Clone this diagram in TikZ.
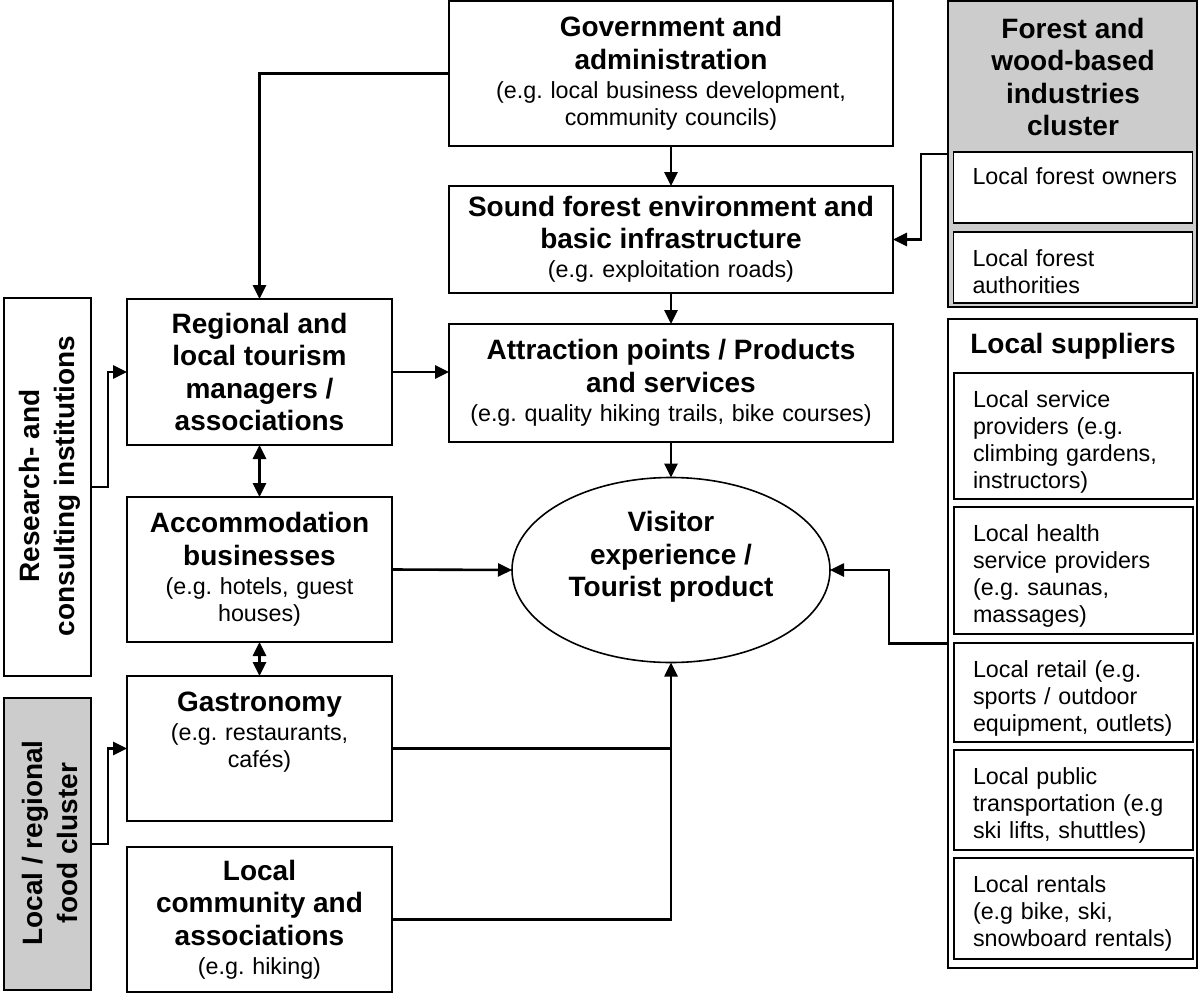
\documentclass[tikz,border=0pt]{standalone}
\usepackage{fontspec}
\setmainfont{Liberation Sans}
\usetikzlibrary{arrows.meta,shapes.geometric}
\definecolor{clustergray}{RGB}{204,204,204}
\setlength{\parindent}{0pt}
\frenchspacing
% bold heading lines inside a box, followed by the plain note text
\newcommand\boxhead[1]{{\fontsize{28}{32.5}\selectfont\bfseries #1\par}\vspace{2pt}}

\begin{document}
\begin{tikzpicture}[x=1pt,y=-1pt,
  every node/.style={inner sep=0pt, outer sep=0pt},
  notefont/.style={font=\fontsize{23.3}{27}\selectfont},
  headfont/.style={font=\fontsize{28}{32.5}\selectfont\bfseries},
  box/.style={draw, line width=1.6pt, fill=white, rectangle},
  midbox/.style={box, notefont, text width=430pt, align=center, minimum width=444pt},
  leftbox/.style={box, notefont, text width=255pt, align=center, minimum width=265pt},
  groupbox/.style={draw, line width=2.4pt, rectangle},
  itembox/.style={box, minimum width=239pt},
  itemtext/.style={notefont, anchor=north west, align=left, text width=215pt},
  plainconn/.style={line width=2.6pt},
  conn/.style={plainconn, -{Triangle[length=14pt,width=13pt]}},
  biconn/.style={plainconn, {Triangle[length=14pt,width=13pt]}-{Triangle[length=14pt,width=13pt]}}
]
\useasboundingbox (0,0) rectangle (1200,993);

% central chain
\node[midbox, minimum height=145pt] (gov) at (671,73.5)
  {\boxhead{Government and\\administration}(e.g. local business development,\\community councils)};
\node[midbox, minimum height=107pt] (sound) at (671,239.5)
  {\boxhead{Sound forest environment and\\basic infrastructure}(e.g. exploitation roads)};
\node[midbox, minimum height=118pt] (attr) at (671,383)
  {\boxhead{Attraction points / Products\\and services}(e.g. quality hiking trails, bike courses)};
\node[draw, ellipse, line width=1.6pt, fill=white, minimum width=318pt, minimum height=185pt] (vis) at (671,570) {};
\node[headfont, align=center] (vistext) at (671,557) {Visitor\\experience /\\Tourist product};

% left column
\node[leftbox, minimum height=146pt] (reg) at (259.5,372)
  {\boxhead{Regional and\\local tourism\\managers /\\associations}};
\node[leftbox, minimum height=145pt] (acc) at (259.5,569.5)
  {\boxhead{Accommodation\\businesses}(e.g. hotels, guest\\houses)};
\node[box, minimum width=265pt, minimum height=145pt] (gas) at (259.5,748.5) {};
\node[notefont, text width=255pt, align=center, anchor=north] (gastext) at (259.5,692)
  {\boxhead{Gastronomy}(e.g. restaurants,\\caf\'es)};
\node[leftbox, minimum height=145pt] (com) at (259.5,919.5)
  {\boxhead{Local\\community and\\associations}(e.g. hiking)};

% outer left blocks with upright-reading labels
\node[box, minimum width=87pt, minimum height=378pt] (res) at (47.5,487) {};
\node[headfont, align=center, rotate=90] (restext) at (50,486) {Research- and\\[3pt]consulting institutions};
\node[box, fill=clustergray, minimum width=87pt, minimum height=292pt] (food) at (47.5,844) {};
\node[headfont, align=center, rotate=90] (foodtext) at (50,843) {Local / regional\\[3pt]food cluster};

% forest cluster
\node[groupbox, fill=clustergray, minimum width=249pt, minimum height=306pt] (forest) at (1072.5,154) {};
\node[headfont, align=center, anchor=north] (foresttitle) at (1073,18) {Forest and\\wood-based\\industries\\cluster};
\node[itembox, minimum height=71pt] (owners) at (1073,187.5) {};
\node[itemtext] (ownerstext) at ([xshift=19pt,yshift=-16pt]owners.north west) {Local forest owners};
\node[itembox, minimum height=71pt] (auth) at (1073,267.5) {};
\node[itemtext] (authtext) at ([xshift=19pt,yshift=-18pt]auth.north west) {Local forest\\authorities};

% local suppliers
\node[groupbox, fill=white, minimum width=249pt, minimum height=649pt] (sup) at (1072.5,643.5) {};
\node[headfont, anchor=north] (suptitle) at (1073,333) {Local suppliers};
\node[itembox, minimum height=126pt] (svc) at (1073.5,436) {};
\node[itemtext] (svctext) at ([xshift=19pt,yshift=-18pt]svc.north west)
  {Local service\\providers (e.g.\\climbing gardens,\\instructors)};
\node[itembox, minimum height=127pt] (hlt) at (1073.5,570.5) {};
\node[itemtext] (hlttext) at ([xshift=19pt,yshift=-18pt]hlt.north west)
  {Local health\\service providers\\(e.g. saunas,\\massages)};
\node[itembox, minimum height=99pt] (ret) at (1073.5,692.5) {};
\node[itemtext] (rettext) at ([xshift=19pt,yshift=-18pt]ret.north west)
  {Local retail (e.g.\\sports / outdoor\\equipment, outlets)};
\node[itembox, minimum height=100pt] (pub) at (1073.5,800) {};
\node[itemtext] (pubtext) at ([xshift=19pt,yshift=-18pt]pub.north west)
  {Local public\\transportation (e.g\\ski lifts, shuttles)};
\node[itembox, minimum height=101pt] (ren) at (1073.5,908.5) {};
\node[itemtext] (rentext) at ([xshift=19pt,yshift=-18pt]ren.north west)
  {Local rentals\\(e.g bike, ski,\\snowboard rentals)};

% connectors
\draw[conn] (gov.west) -| (reg.north);
\draw[conn] (gov.south) -- (sound.north);
\draw[conn] (sound.south) -- (attr.north);
\draw[conn] (attr.south) -- (vis.north);
\draw[conn] (forest.west) -- ++(-27,0) |- (sound.east);
\draw[conn] (reg.east) -- (reg.east -| attr.west);
\draw[conn] (res.east) -- ++(17,0) |- (reg.west);
\draw[biconn] (reg.south) -- (acc.north);
\draw[biconn] (acc.south) -- (gas.north);
\draw[conn] (acc.east) -- (vis.west);
\draw[plainconn] (gas.east) -- (gas.east -| vis.south);
\draw[conn] (com.east) -| (vis.south);
\draw[conn] (food.east) -- ++(17,0) |- (gas.west);
\draw[conn] (sup.west) -- ++(-59,0) |- (vis.east);
\end{tikzpicture}
\end{document}
